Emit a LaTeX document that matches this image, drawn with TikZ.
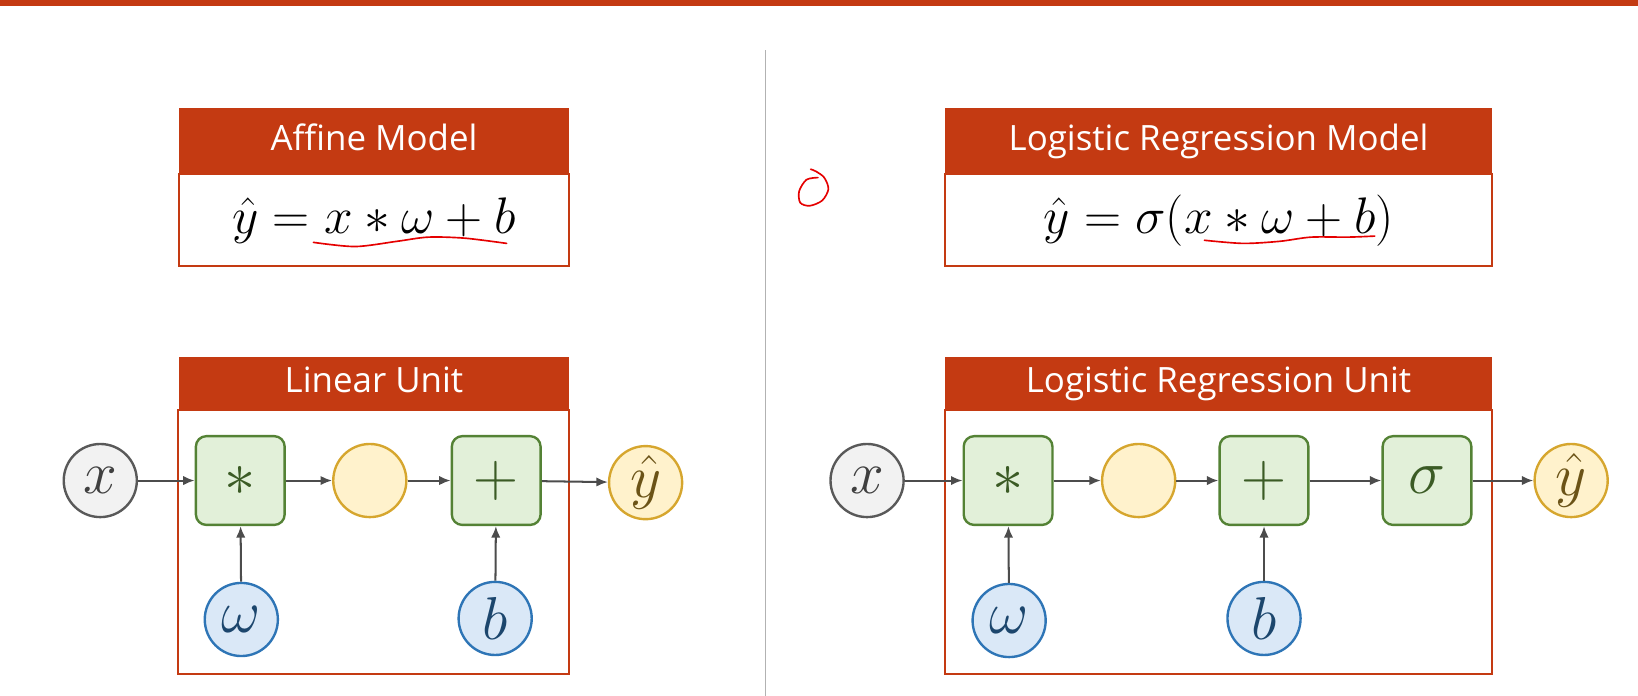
\RequirePackage{fix-cm}
\documentclass[tikz,border=0pt]{standalone}
\usepackage{amsmath}
\usepackage{fontspec}
\newfontfamily\headfont{Open Sans}
\usetikzlibrary{arrows.meta,
                positioning}
\definecolor{hdred}{RGB}{196,58,18}
\definecolor{opfill}{RGB}{226,240,217}
\definecolor{opline}{RGB}{84,130,53}
\definecolor{hidfill}{RGB}{255,242,204}
\definecolor{hidline}{RGB}{214,166,46}
\definecolor{parfill}{RGB}{218,232,247}
\definecolor{parline}{RGB}{46,117,182}
\definecolor{inpfill}{RGB}{242,242,242}
\definecolor{inpline}{RGB}{89,89,89}
\begin{document}
\begin{tikzpicture}[x=0.02cm, y=-0.02cm,
                    head/.style={fill=hdred, text=white, inner sep=0, minimum height=#1,
                                 text height=1em, text depth=0em,
                                 font=\headfont\fontsize{19}{23}\selectfont},
                    body/.style={draw=hdred, line width=1.1pt, inner sep=0, minimum height=1.76cm,
                                 font=\fontsize{28}{32}\selectfont},
                    frame/.style={draw=hdred, line width=1.1pt},
                    op/.style={draw=opline, fill=opfill, line width=1.3pt, rounded corners=0.2cm,
                               minimum size=1.7cm, inner sep=0, text=opline!70!black,
                               font=\fontsize{34}{38}\selectfont},
                    var/.style={circle, line width=1.3pt, minimum size=1.4cm, inner sep=0,
                                font=\fontsize{33}{37}\selectfont},
                    inp/.style={var, draw=inpline, fill=inpfill, text=black!75},
                    hid/.style={var, draw=hidline, fill=hidfill, text=hidline!50!black},
                    par/.style={var, draw=parline, fill=parfill, text=parline!60!black},
                    arrow/.style={-{Latex[length=0.22cm, width=0.18cm]}, line width=1.1pt, black!70},
                    annot/.style={red!90!black, line width=0.9pt, line cap=round}
                    ]
    \useasboundingbox (0,0) rectangle (1568,666);
    \fill[hdred] (0,0) rectangle (1568,6);
    \draw[gray!60, line width=0.7pt] (733,48) -- (733,666);

    %model boxes
    \node[head=1.28cm, minimum width=7.48cm] at (358,135) (AMhead) {Affine Model};
    \node[body, minimum width=7.48cm] at (358,211) (AMbody) {$\hat{y} = x \ast \omega + b$};
    \node[head=1.28cm, minimum width=10.46cm] at (1166.5,135) (LMhead) {Logistic Regression Model};
    \node[body, minimum width=10.46cm] at (1166.5,211) (LMbody) {$\hat{y} = \sigma(x \ast \omega + b)$};

    %unit boxes
    \node[head=1cm, minimum width=7.48cm] at (358,367) (LUhead) {Linear Unit};
    \draw[frame] (LUhead.south west) rectangle (545,645);
    \node[head=1cm, minimum width=10.46cm] at (1166.5,367) (LRUhead) {Logistic Regression Unit};
    \draw[frame] (LRUhead.south west) rectangle (1428,645);

    %linear unit nodes
    \node[inp] at (96,460)  (xL)   {$x$};
    \node[op]  at (230,460) (mulL) {$\ast$};
    \node[hid] at (354,460) (hidL) {};
    \node[op]  at (475,460) (addL) {$+$};
    \node[hid] at (618,462) (yL)   {$\hat{y}$};
    \node[par] at (231,593) (wL)   {$\omega$};
    \node[par] at (474,592) (bL)   {$b$};

    \draw[arrow] (xL) -- (mulL);
    \draw[arrow] (mulL) -- (hidL);
    \draw[arrow] (hidL) -- (addL);
    \draw[arrow] (addL) -- (yL);
    \draw[arrow] (wL) -- (mulL);
    \draw[arrow] (bL) -- (addL);

    %logistic regression unit nodes
    \node[inp] at (830,460)  (xR)   {$x$};
    \node[op]  at (965,460)  (mulR) {$\ast$};
    \node[hid] at (1090,460) (hidR) {};
    \node[op]  at (1210,460) (addR) {$+$};
    \node[op]  at (1366,460) (sigR) {$\sigma$};
    \node[hid] at (1504,460) (yR)   {$\hat{y}$};
    \node[par] at (966,594)  (wR)   {$\omega$};
    \node[par] at (1210,592) (bR)   {$b$};

    \draw[arrow] (xR) -- (mulR);
    \draw[arrow] (mulR) -- (hidR);
    \draw[arrow] (hidR) -- (addR);
    \draw[arrow] (addR) -- (sigR);
    \draw[arrow] (sigR) -- (yR);
    \draw[arrow] (wR) -- (mulR);
    \draw[arrow] (bR) -- (addR);

    %red pen marks
    \draw[annot] plot[smooth] coordinates {(300,232) (340,236) (380,231) (410,227) (445,228) (485,233)};
    \draw[annot] plot[smooth] coordinates {(1153,230) (1190,233) (1225,231) (1255,227) (1290,227) (1316,226)};
    \draw[annot] plot[smooth] coordinates {(783,170) (772,172) (765,183) (766,194) (775,197) (787,192) (793,181) (789,170) (781,164) (776,162)};
\end{tikzpicture}
\end{document}
